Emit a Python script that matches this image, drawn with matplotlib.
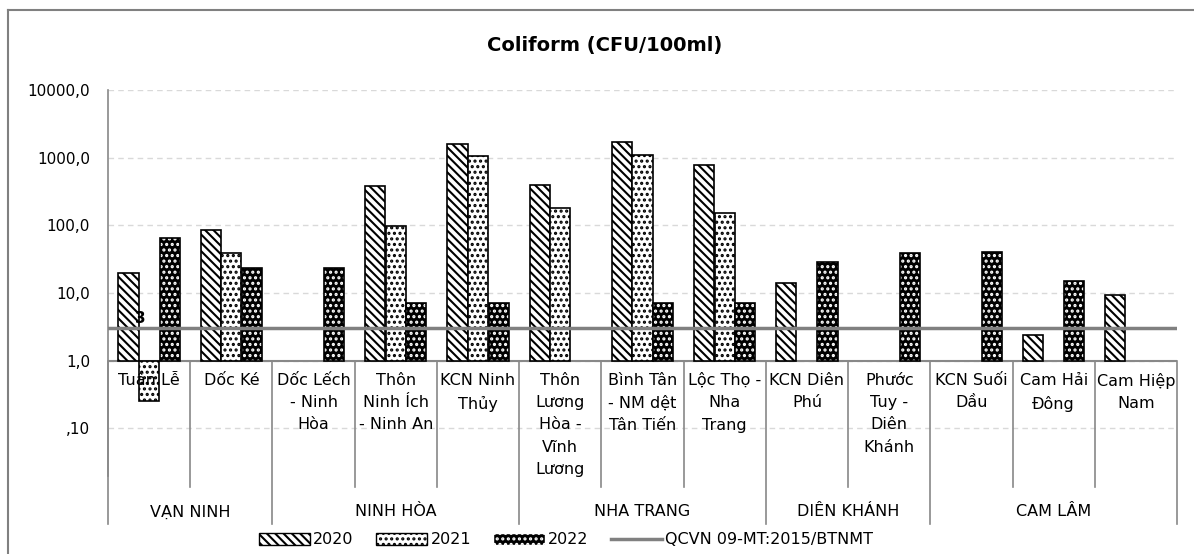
import numpy as np
import matplotlib.pyplot as plt
from matplotlib.patches import Patch
from matplotlib.lines import Line2D
from matplotlib.ticker import NullLocator
from matplotlib.transforms import blended_transform_factory

plt.rcParams['font.family'] = ['DejaVu Sans']
plt.rcParams['hatch.linewidth'] = 1.5

# du lieu
stations = ["Tuần Lễ", "Dốc Ké", "Dốc Lếch\n- Ninh\nHòa", "Thôn\nNinh Ích\n- Ninh An",
            "KCN Ninh\nThủy", "Thôn\nLương\nHòa -\nVĩnh\nLương", "Bình Tân\n- NM dệt\nTân Tiến",
            "Lộc Thọ -\nNha\nTrang", "KCN Diên\nPhú", "Phước\nTuy -\nDiên\nKhánh",
            "KCN Suối\nDầu", "Cam Hải\nĐông", "Cam Hiệp\nNam"]
groups = ["VẠN NINH", "NINH HÒA", "NHA TRANG", "DIÊN KHÁNH", "CAM LÂM"]
group_sizes = [2, 3, 3, 2, 3]
nan = np.nan
v2020 = [20, 86, nan, 380, 1600, 390, 1700, 790, 14, nan, nan, 2.4, 9.3]
v2021 = [0.25, 39, nan, 98, 1050, 180, 1100, 150, nan, nan, nan, nan, nan]
v2022 = [64, 23, 23, 7, 7, nan, 7, 7, 29, 39, 40, 15, nan]
qcvn = 3
ytick_vals = [0.1, 1, 10, 100, 1000, 10000]
ytick_labels = [",10", "1,0", "10,0", "100,0", "1000,0", "10000,0"]

W, H = 1194, 554
fig = plt.figure(figsize=(W / 100, H / 100), dpi=100)


def fx(p):
    return p / W


def fy(p):
    return 1 - p / H


ax = fig.add_axes([fx(108), fy(475.5), fx(1177) - fx(108), fy(90) - fy(475.5)])
ax.set_yscale('log')
ax.set_ylim(0.02, 10000)
ax.set_xlim(-0.5, len(stations) - 0.5)

x = np.arange(len(stations))
bw = 0.245


def draw_bars(vals, off, face, edge, hatch, outline):
    vals = np.array(vals, dtype=float)
    m = ~np.isnan(vals)
    ax.bar(x[m] + off, vals[m] - 1, bottom=1, width=bw, facecolor=face,
           edgecolor=edge, hatch=hatch, linewidth=0 if outline else 1.2, zorder=3)
    if outline:
        ax.bar(x[m] + off, vals[m] - 1, bottom=1, width=bw, fill=False,
               edgecolor='black', linewidth=1.2, zorder=4)


draw_bars(v2020, -0.25, 'white', 'black', '\\\\\\\\', False)
draw_bars(v2021, 0.0, 'white', 'black', '...', False)
draw_bars(v2022, 0.25, 'black', 'white', '...', True)

ax.axhline(qcvn, color='#808080', lw=2.5, zorder=5)
ax.annotate(str(qcvn), (-0.11, qcvn), xytext=(0, 7), textcoords='offset points',
            ha='center', va='center', fontsize=11, fontweight='bold', zorder=6)
ax.axhline(1, color='#888888', lw=1.5, zorder=2)

for s in ['top', 'right', 'bottom']:
    ax.spines[s].set_visible(False)
ax.spines['left'].set_color('#888888')
ax.spines['left'].set_linewidth(1.2)
ax.set_yticks(ytick_vals)
ax.set_yticklabels(ytick_labels)
ax.yaxis.set_minor_locator(NullLocator())
ax.tick_params(axis='y', length=0, pad=13, labelsize=11)
ax.set_xticks([])
ax.yaxis.grid(True, ls=(0, (4, 3)), color='#d9d9d9', lw=1)
ax.set_axisbelow(True)

# nhan truc danh muc
tr = blended_transform_factory(ax.transData, fig.transFigure)
bounds = np.cumsum([0] + group_sizes)
for b in range(len(stations) + 1):
    y_end = 524 if b in bounds else 487
    ax.add_line(Line2D([b - 0.5, b - 0.5], [fy(360.7), fy(y_end)], transform=tr,
                       color='#888888', lw=1.2, clip_on=False))
for i, lab in enumerate(stations):
    ax.text(i, fy(373), lab, transform=tr, ha='center', va='top', fontsize=11.5,
            linespacing=1.6, multialignment='center')
for g, lab in enumerate(groups):
    cx = (bounds[g] + bounds[g + 1] - 1) / 2
    ax.text(cx, fy(512), lab, transform=tr, ha='center', va='center', fontsize=11.5)

fig.text(fx(605), fy(46), 'Coliform (CFU/100ml)', ha='center', va='center',
         fontsize=14, fontweight='bold')

# khung
fig.add_artist(Line2D([fx(8), fx(8)], [fy(10), 0], color='#808080', lw=1.5))
fig.add_artist(Line2D([fx(8), 1], [fy(10), fy(10)], color='#808080', lw=1.5))

handles = [Patch(facecolor='white', edgecolor='black', hatch='\\\\\\\\'),
           Patch(facecolor='white', edgecolor='black', hatch='...'),
           Patch(facecolor='black', edgecolor='white', hatch='...'),
           Line2D([], [], color='#808080', lw=2.5)]
fig.legend(handles, ['2020', '2021', '2022', 'QCVN 09-MT:2015/BTNMT'], loc='center',
           bbox_to_anchor=(fx(566), fy(540)), ncol=4, frameon=False, fontsize=11.5,
           handlelength=3.2, handleheight=0.7, handletextpad=0.2, columnspacing=1.4)

fig.savefig('out.png', dpi=100)
